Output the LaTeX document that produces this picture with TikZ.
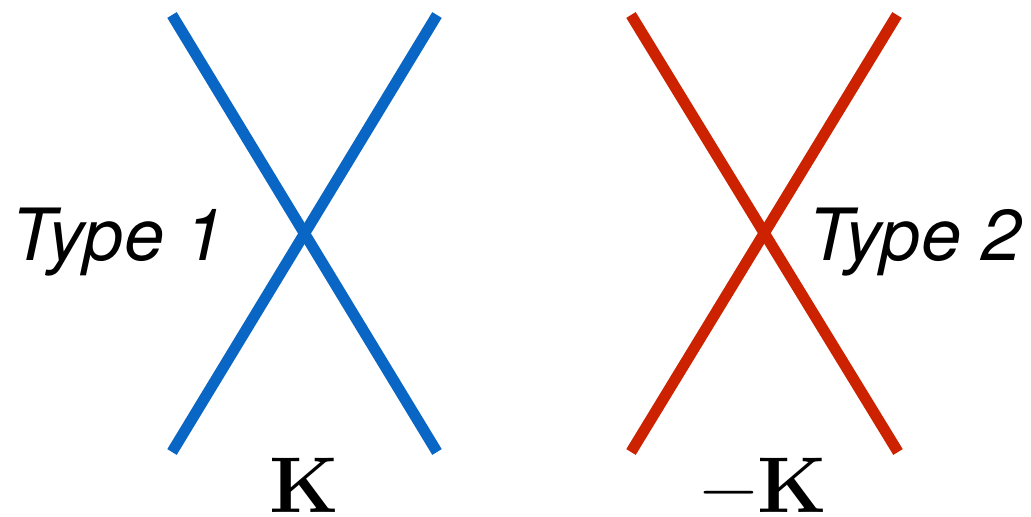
\documentclass[tikz,border=0pt]{standalone}
\usepackage{fontspec}
\usepackage{xcolor}
\newfontfamily\labelfont{TeX Gyre Heros}
\definecolor{crossBlue}{HTML}{0A66C4}
\definecolor{crossRed} {HTML}{CC2200}
\usetikzlibrary{positioning, calc}
\tikzset{
    leg/.style={line width=6.3pt, line cap=butt},
    legone/.style={leg, crossBlue},
    legtwo/.style={leg, crossRed},
    typelabel/.style={font=\labelfont\itshape\fontsize{41}{41}\selectfont, inner sep=0pt, anchor=base},
    klabel/.style={font=\fontsize{45}{45}\selectfont, inner sep=0pt, anchor=base},
}

\begin{document}
\begin{tikzpicture}[x=0.02cm, y=-0.02cm]
    \useasboundingbox (0,0) rectangle (1031,517);
    % end points of the two crosses
    \coordinate (A1) at (172,15);  \coordinate (A2) at (437,452);
    \coordinate (A3) at (437,15);  \coordinate (A4) at (172,452);
    \coordinate (B1) at (631,15);  \coordinate (B2) at (898,452);
    \coordinate (B3) at (897,15);  \coordinate (B4) at (631,452);
    \draw[legone] (A1) -- (A2);
    \draw[legone] (A3) -- (A4);
    \draw[legtwo] (B1) -- (B2);
    \draw[legtwo] (B3) -- (B4);
    % labels
    \node[typelabel] (T1) at (118,260) {Type 1};
    \node[typelabel] (T2) at (915,260) {Type 2};
    \node[klabel] (K1) at (304,512) {\textbf{K}};
    \node[klabel] (K2) at (764,512) {−\textbf{K}};
\end{tikzpicture}
\end{document}
